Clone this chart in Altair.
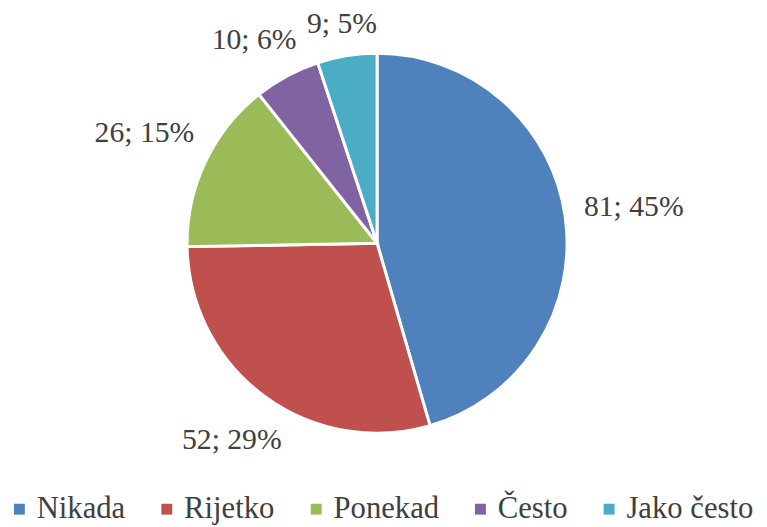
import altair as alt
import pandas as pd
import numpy as np

categories = ["Nikada", "Rijetko", "Ponekad", "Često", "Jako često"]
values = [81, 52, 26, 10, 9]
percents = [45, 29, 15, 6, 5]
colors = ["#4F81BD", "#C0504D", "#9BBB59", "#8064A2", "#4BACC6"]

R = 192
FONT = 30
SERIF = "Liberation Serif, Times New Roman, serif"
CX, CY = 373, 235

df = pd.DataFrame({"cat": categories, "val": values, "pct": percents})
df["idx"] = range(len(df))
df["label"] = [f"{v}; {p}%" for v, p in zip(values, percents)]

# ---- label placement: mid-angle of each slice, pushed just outside the pie,
# then nudged so neighbouring labels do not collide
CHAR_W = {";": 0.278, " ": 0.25, "%": 0.833}
def text_w(s):
    return sum(CHAR_W.get(c, 0.5) for c in s) * FONT

tot = df["val"].sum()
cum = df["val"].cumsum()
ang = list((cum - df["val"] / 2) / tot * 2 * np.pi)
hw = [text_w(s) / 2 for s in df["label"]]
hh = 8.0
GAP = 19

def dist(a, w):
    return R + GAP + abs(np.sin(a)) * w + abs(np.cos(a)) * hh

def box(i):
    r = dist(ang[i], hw[i])
    return r * np.sin(ang[i]), -r * np.cos(ang[i])

for _ in range(200):
    moved = False
    for i in range(len(ang) - 1):
        j = i + 1
        xi, yi = box(i)
        xj, yj = box(j)
        if abs(xi - xj) < hw[i] + hw[j] + 10 and abs(yi - yj) < 2 * hh + 16:
            ang[i] -= 0.01
            moved = True
    if not moved:
        break

df["mid"] = ang
df["lr"] = [dist(a, w) for a, w in zip(ang, hw)]

pie = alt.Chart(df).mark_arc(stroke="white", strokeWidth=3).encode(
    theta=alt.Theta("val:Q", stack=True),
    order=alt.Order("idx:Q"),
    x=alt.value(CX),
    y=alt.value(CY),
    radius=alt.value(R),
    color=alt.Color(
        "cat:N",
        scale=alt.Scale(domain=categories, range=colors),
        sort=categories,
        legend=alt.Legend(
            title=None,
            orient="none",
            legendX=-4,
            legendY=488,
            direction="horizontal",
            symbolType="square",
            symbolSize=121,
            symbolStrokeWidth=0,
            labelFont=SERIF,
            labelFontSize=31,
            labelColor="#404040",
            labelOffset=2,
            labelLimit=300,
            columnPadding=26,
            padding=0,
        ),
    ),
)

text = alt.Chart(df).mark_text(
    font=SERIF, fontSize=FONT, color="#404040",
    align="center", baseline="middle",
).encode(
    theta=alt.Theta("mid:Q", scale=None, stack=False),
    radius=alt.Radius("lr:Q", scale=None),
    x=alt.value(CX),
    y=alt.value(CY),
    text="label:N",
)

chart = (pie + text).properties(
    width=759, height=519, padding=0, autosize=alt.AutoSizeParams(type="none")
).configure_view(strokeWidth=0)

chart.save("out.html", embed_options={"renderer": "svg", "actions": False})
